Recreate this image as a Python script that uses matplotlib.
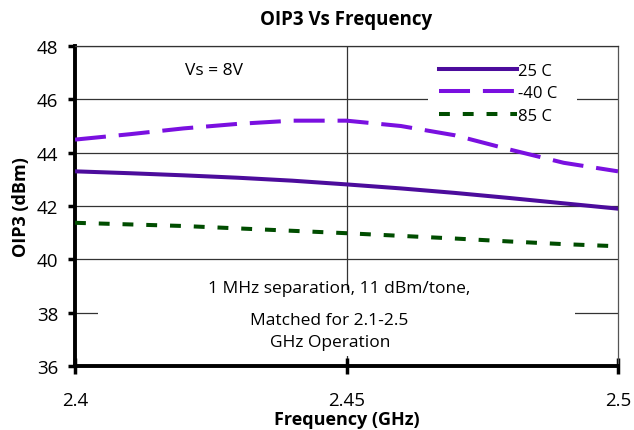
import matplotlib
matplotlib.use("Agg")
import matplotlib.pyplot as plt
from matplotlib.patches import Rectangle

plt.rcParams['font.family'] = ['Open Sans', 'DejaVu Sans']

freq = [2.40, 2.41, 2.42, 2.43, 2.44, 2.45, 2.46, 2.47, 2.48, 2.49, 2.50]
oip3_25 = [43.30, 43.23, 43.15, 43.06, 42.95, 42.81, 42.66, 42.49, 42.30, 42.10, 41.90]
oip3_m40 = [44.49, 44.69, 44.91, 45.08, 45.20, 45.20, 45.00, 44.65, 44.12, 43.62, 43.30]
oip3_85 = [41.37, 41.31, 41.25, 41.16, 41.07, 40.98, 40.88, 40.78, 40.67, 40.57, 40.49]
series_labels = ['25 C', '-40 C', '85 C']
xticks = [2.4, 2.45, 2.5]
xticklabels = ['2.4', '2.45', '2.5']
yticks = [36, 38, 40, 42, 44, 46, 48]

fig = plt.figure(figsize=(6.34, 4.31), dpi=100)
ax = fig.add_axes([75/634, 1-367/431, 543/634, 320/431])
ax.set_xlim(2.4, 2.5)
ax.set_ylim(36, 48)

grid_c = '#333333'
for y in yticks[1:]:
    ax.axhline(y, color=grid_c, lw=0.9, zorder=1)
ax.axvline(2.45, color=grid_c, lw=0.9, zorder=1)

# white boxes behind the text blocks that hide gridlines
ax.add_patch(Rectangle((0.042, 0.031), 0.878, 0.207, transform=ax.transAxes,
                       facecolor='white', edgecolor='none', zorder=2))
ax.add_patch(Rectangle((0.650, 0.766), 0.274, 0.20, transform=ax.transAxes,
                       facecolor='white', edgecolor='none', zorder=2))

lw = 2.9
l1, = ax.plot(freq, oip3_25, color='#4c0c9c', lw=lw, zorder=4)
l2, = ax.plot(freq, oip3_m40, color='#7a10e0', lw=lw, dashes=(7.7, 3.2), zorder=4)
l3, = ax.plot(freq, oip3_85, color='#004d00', lw=lw, dashes=(2.7, 3.2), zorder=4)

leg = ax.legend([l1, l2, l3], series_labels, loc='upper left',
                bbox_to_anchor=(0.670, 0.947), frameon=False, fontsize=12,
                handlelength=4.7, handletextpad=0.05, labelspacing=0.38,
                borderaxespad=0, borderpad=0)
leg.set_zorder(5)

ax.text(0.256, 0.925, 'Vs = 8V', transform=ax.transAxes, fontsize=12.5,
        ha='center', va='center', zorder=5)
ax.text(0.486, 0.243, '1 MHz separation, 11 dBm/tone,', transform=ax.transAxes,
        fontsize=12.5, ha='center', va='center', zorder=5)
ax.text(0.468, 0.145, 'Matched for 2.1-2.5', transform=ax.transAxes,
        fontsize=12.5, ha='center', va='center', zorder=5)
ax.text(0.470, 0.075, 'GHz Operation', transform=ax.transAxes,
        fontsize=12.5, ha='center', va='center', zorder=5)

ax.set_xticks(xticks)
ax.set_xticklabels(xticklabels, fontsize=13.5)
ax.set_yticks(yticks)
ax.set_yticklabels([str(y) for y in yticks], fontsize=13.5)
ax.tick_params(axis='y', direction='out', length=5, width=2.5, pad=7)
ax.tick_params(axis='x', direction='inout', length=12, width=2.5, pad=12)

for s in ['left', 'bottom']:
    ax.spines[s].set_linewidth(2.8)
ax.spines['top'].set_linewidth(0.9)
ax.spines['top'].set_color(grid_c)
ax.spines['right'].set_linewidth(0.9)
ax.spines['right'].set_color('#555555')

ax.set_title('OIP3 Vs Frequency', fontsize=13.5, fontweight='bold', pad=16)
ax.set_xlabel('Frequency (GHz)', fontsize=13, fontweight='bold', labelpad=1)
ax.set_ylabel('OIP3 (dBm)', fontsize=13, fontweight='bold', labelpad=5)

fig.savefig('out.png', dpi=100)
